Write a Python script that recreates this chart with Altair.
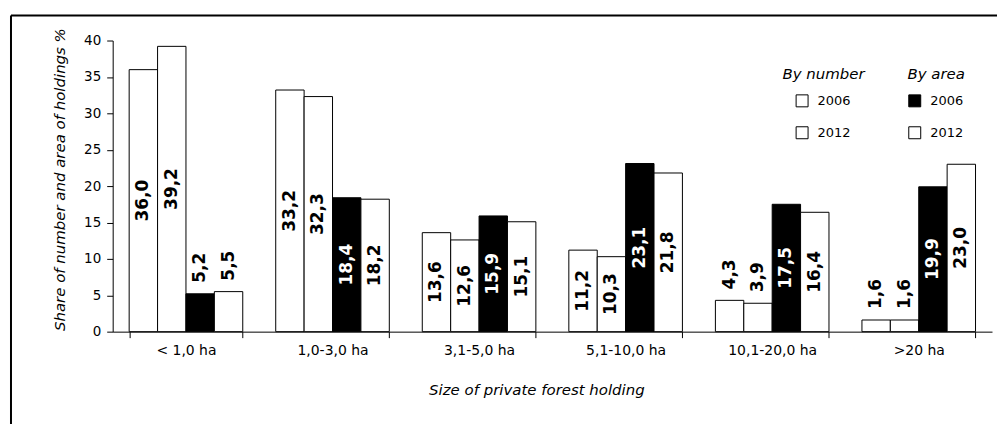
import altair as alt
import pandas as pd

cats = ["< 1,0 ha", "1,0-3,0 ha", "3,1-5,0 ha", "5,1-10,0 ha", "10,1-20,0 ha", ">20 ha"]
series = ["N2006", "N2012", "A2006", "A2012"]
n2006 = [36.0, 33.2, 13.6, 11.2, 4.3, 1.6]
n2012 = [39.2, 32.3, 12.6, 10.3, 3.9, 1.6]
a2006 = [5.2, 18.4, 15.9, 23.1, 17.5, 19.9]
a2012 = [5.5, 18.2, 15.1, 21.8, 16.4, 23.0]

rows = []
for i, c in enumerate(cats):
    for s, vals in zip(series, [n2006, n2012, a2006, a2012]):
        rows.append(dict(cat=c, series=s, kind="number" if s[0] == "N" else "area",
                         year=s[1:], value=vals[i]))
df = pd.DataFrame(rows)

FONT = "DejaVu Sans"
YTITLE = "Share of number and area of holdings  %"

x_enc = alt.X("cat:N", sort=cats,
              scale=alt.Scale(paddingInner=0.225, paddingOuter=0.1125),
              axis=alt.Axis(title="Size of private forest holding", titleFontStyle="italic",
                            titleFontWeight="normal", titleFontSize=15, titleX=425, titleY=58,
                            titleBaseline="middle", labelAngle=0, labelFontSize=14,
                            tickBand="extent", tickSize=6, labelPadding=6,
                            domainColor="black", tickColor="black", labelColor="black",
                            titleColor="black"))
y_axis = alt.Axis(title=YTITLE,
                  titleFontStyle="italic", titleFontWeight="normal", titleFontSize=15,
                  titleX=-53, titleY=139, titleBaseline="middle", titleAlign="center",
                  values=list(range(0, 41, 5)), tickSize=6, labelPadding=6,
                  labelFontSize=13.5, grid=False, domainColor="black",
                  tickColor="black", labelColor="black", titleColor="black")
y_scale = alt.Scale(domain=[0, 40])
xo_enc = alt.XOffset("series:N", sort=series,
                     scale=alt.Scale(domain=series, paddingInner=0, paddingOuter=0))

base = alt.Chart().encode(
    x=x_enc, xOffset=xo_enc,
    y=alt.Y("value:Q", scale=y_scale, axis=y_axis, title=YTITLE),
)

legend_common = dict(orient="none", symbolType="square", symbolSize=144,
                     symbolStrokeColor="black", symbolStrokeWidth=1, titleFontStyle="italic",
                     titleFontWeight="normal", titleFontSize=15, titleColor="black",
                     labelFontSize=13, labelColor="black", labelOffset=9, rowPadding=15,
                     titlePadding=12, titleAnchor="middle", padding=0, legendY=27)

bars_num = base.transform_filter("datum.kind == 'number'").mark_bar(
    stroke="black", strokeWidth=1).encode(
    fill=alt.Fill("year:N", scale=alt.Scale(domain=["2006", "2012"], range=["white", "white"]),
                  legend=alt.Legend(title="By number", legendX=672, **legend_common)))

bars_area = base.transform_filter("datum.kind == 'area'").mark_bar(
    stroke="black", strokeWidth=1).encode(
    fill=alt.Fill("year:N", scale=alt.Scale(domain=["2006", "2012"], range=["black", "white"]),
                  legend=alt.Legend(title="By area", legendX=797, **legend_common)))

labels = base.transform_calculate(
    label="replace(format(datum.value, '.1f'), '.', ',')",
    mid="datum.value / 2")

text_in = labels.transform_filter("datum.value >= 10").mark_text(
    angle=270, align="center", baseline="middle", fontWeight="bold", fontSize=17).encode(
    y=alt.Y("mid:Q", scale=y_scale, axis=y_axis, title=YTITLE),
    text="label:N",
    color=alt.condition("datum.series == 'A2006'", alt.value("white"), alt.value("black")))

text_out = labels.transform_filter("datum.value < 10").mark_text(
    angle=270, align="left", baseline="middle", fontWeight="bold", fontSize=17, dx=11).encode(
    text="label:N", color=alt.value("black"))

frame_left = alt.Chart(alt.Data(values=[{}])).mark_rule(color="black", strokeWidth=2).encode(
    x=alt.value(-102), y=alt.value(-25), y2=alt.value(392))
frame_top = alt.Chart(alt.Data(values=[{}])).mark_rule(color="black", strokeWidth=2).encode(
    x=alt.value(-102), x2=alt.value(892), y=alt.value(-25))

chart = alt.layer(bars_num, bars_area, text_in, text_out, frame_left, frame_top, data=df).resolve_scale(
    fill="independent"
).properties(
    width=882, height=292,
    padding={"left": 105, "top": 32, "right": 5, "bottom": 92},
    autosize=alt.AutoSizeParams(type="none"),
).configure(font=FONT).configure_view(strokeWidth=0)

chart.save("out.html", embed_options={"renderer": "svg", "actions": False})
